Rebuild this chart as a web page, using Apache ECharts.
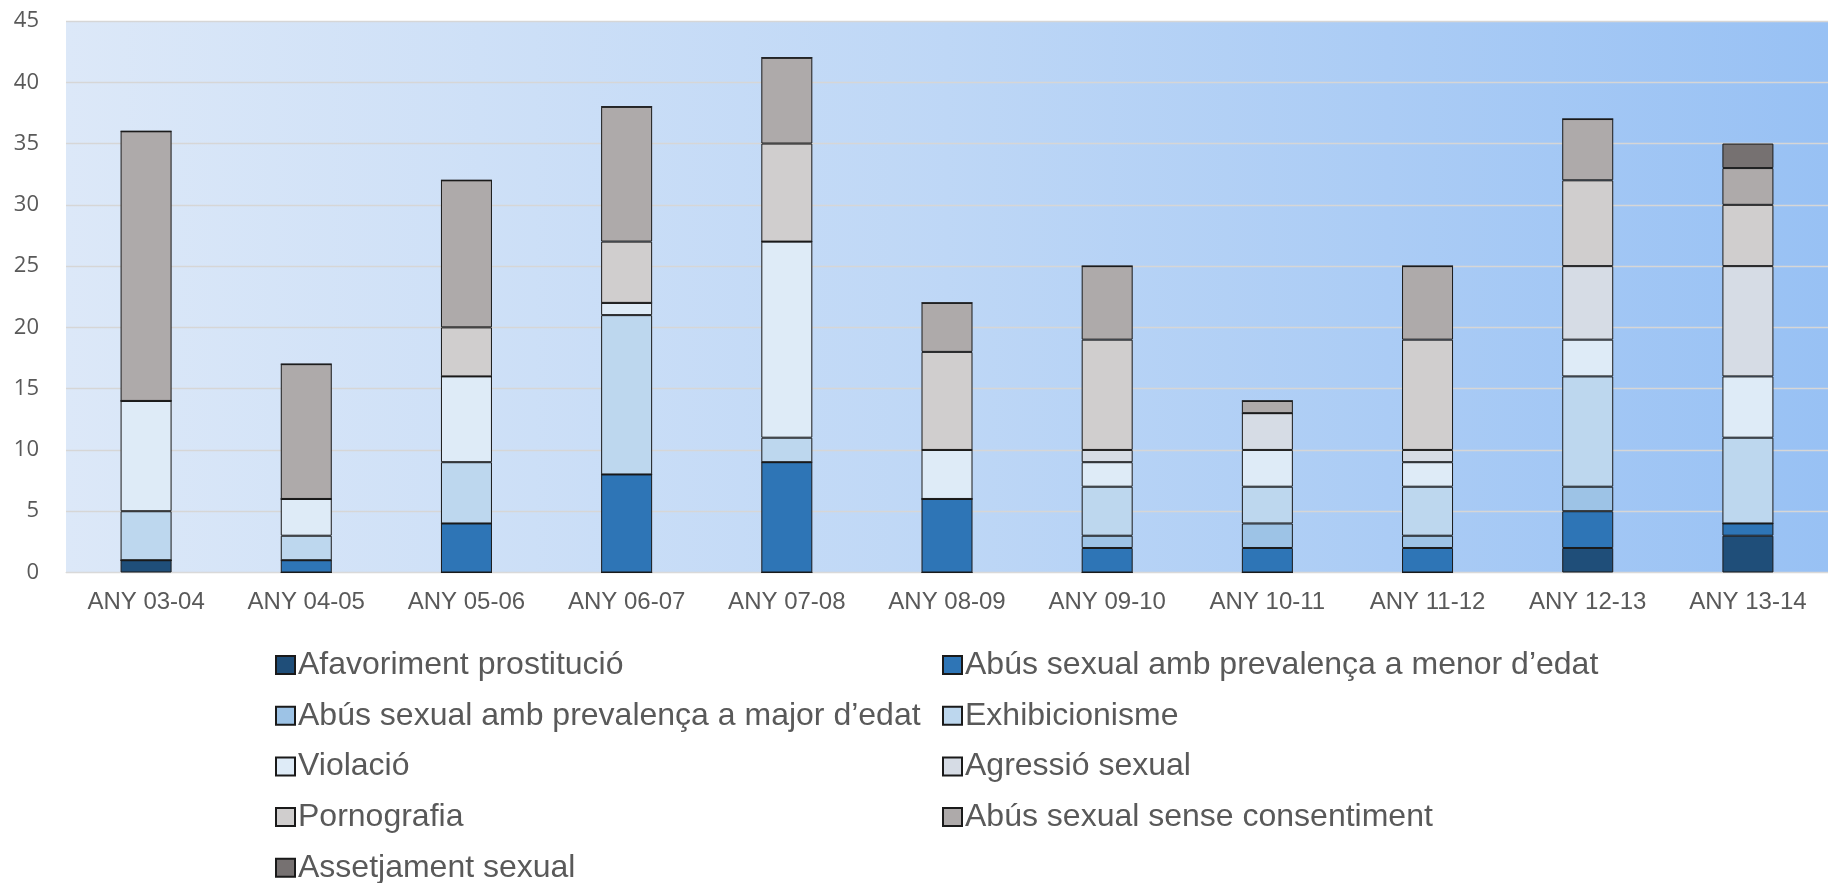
<!DOCTYPE html>
<html>
<head>
<meta charset="utf-8">
<script src="https://cdn.jsdelivr.net/npm/echarts@6/dist/echarts.min.js"></script>
<style>
  html, body { margin: 0; padding: 0; background: #fff; }
  #chart { width: 1828px; height: 883px; }
</style>
</head>
<body>
<div id="chart"></div>
<script>
// anys (categories)
const years = ['ANY 03-04', 'ANY 04-05', 'ANY 05-06', 'ANY 06-07', 'ANY 07-08', 'ANY 08-09',
  'ANY 09-10', 'ANY 10-11', 'ANY 11-12', 'ANY 12-13', 'ANY 13-14']

// valors per tipus de delicte (de baix a dalt de la pila)
const afavoriment = [1, 0, 0, 0, 0, 0, 0, 0, 0, 2, 3]
const abusMenor = [0, 1, 4, 8, 9, 6, 2, 2, 2, 3, 1]
const abusMajor = [0, 0, 0, 0, 0, 0, 1, 2, 1, 2, 0]
const exhibicionisme = [4, 2, 5, 13, 2, 0, 4, 3, 4, 9, 7]
const violacio = [9, 3, 7, 1, 16, 4, 2, 3, 2, 3, 5]
const agressio = [0, 0, 0, 0, 0, 0, 1, 3, 1, 6, 9]
const pornografia = [0, 0, 4, 5, 8, 8, 9, 0, 9, 7, 5]
const abusSense = [22, 11, 12, 11, 7, 4, 6, 1, 6, 5, 3]
const assetjament = [0, 0, 0, 0, 0, 0, 0, 0, 0, 0, 2]

const names = [
  'Afavoriment prostitució',
  'Abús sexual amb prevalença a menor d’edat',
  'Abús sexual amb prevalença a major d’edat',
  'Exhibicionisme',
  'Violació',
  'Agressió sexual',
  'Pornografia',
  'Abús sexual sense consentiment',
  'Assetjament sexual'
]
const values = [afavoriment, abusMenor, abusMajor, exhibicionisme, violacio, agressio, pornografia, abusSense, assetjament]
const colors = ['#1f4e79', '#2e75b6', '#9dc3e6', '#bdd7ee', '#deebf7', '#d6dce5', '#d0cece', '#aeaaaa', '#767171']

const series = names.map((name, i) => ({
  name: name,
  type: 'bar',
  stack: 'total',
  barWidth: 51,
  data: values[i],
  itemStyle: {
    color: colors[i],
    borderColor: '#1a1a1a',
    borderWidth: 1
  }
}))

const legendText = {
  fontFamily: 'Liberation Sans',
  fontSize: 32,
  color: '#595959',
  lineHeight: 34,
  padding: [0, 0, 0, -2]
}

// two vertical legends side by side = the two columns
function makeLegend(left, items) {
  return {
    orient: 'vertical',
    left: left,
    top: 648,
    height: 300,
    padding: 0,
    icon: 'rect',
    itemWidth: 19,
    itemHeight: 18,
    itemGap: 16.7,
    textStyle: legendText,
    data: items
  }
}

const chart = echarts.init(document.getElementById('chart'))
chart.setOption({
  animation: false,
  grid: {
    left: 66,
    top: 21,
    width: 1770,
    height: 551.5,
    show: true,
    borderWidth: 0,
    backgroundColor: new echarts.graphic.LinearGradient(0, 0, 1, 0, [
      { offset: 0, color: '#dce8f8' },
      { offset: 0.5, color: '#bed7f6' },
      { offset: 1, color: '#98c1f4' }
    ])
  },
  legend: [
    makeLegend(275, [names[0], names[2], names[4], names[6], names[8]]),
    makeLegend(942, [names[1], names[3], names[5], names[7]])
  ],
  xAxis: {
    type: 'category',
    data: years,
    axisLine: { show: true, lineStyle: { color: '#d9d9d9', width: 1 } },
    axisTick: { show: false },
    axisLabel: {
      fontFamily: 'Liberation Sans',
      fontSize: 24,
      color: '#595959',
      margin: 18
    }
  },
  yAxis: {
    type: 'value',
    min: 0,
    max: 45,
    interval: 5,
    axisLine: { show: false },
    axisTick: { show: false },
    splitLine: { lineStyle: { color: '#d6d6d6', width: 1.3 } },
    axisLabel: {
      fontFamily: 'Open Sans',
      fontSize: 22,
      color: '#595959',
      margin: 27
    }
  },
  series: series
})
</script>
</body>
</html>
